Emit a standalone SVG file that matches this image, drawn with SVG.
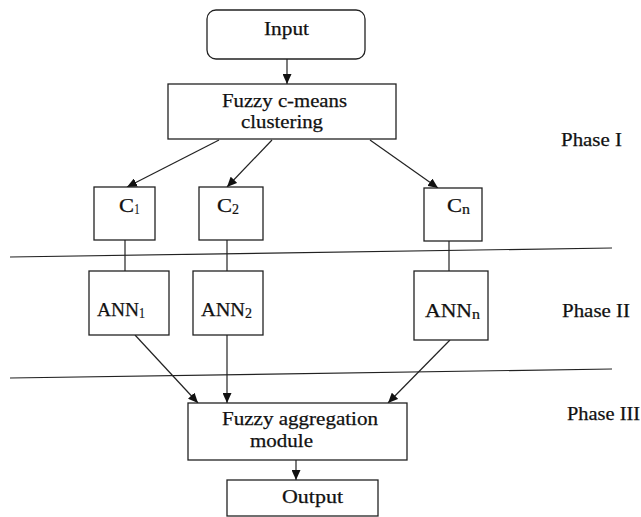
<svg xmlns="http://www.w3.org/2000/svg" width="641" height="517" viewBox="0 0 641 517">
<style>
.box{fill:#fff;stroke:#222;stroke-width:1.3}
.ln{fill:none;stroke:#222;stroke-width:1.2}
.t{font-family:"Liberation Serif","Times New Roman",serif;font-size:18.8px;fill:#111;stroke:#111;stroke-width:0.25}
.s{font-family:"Liberation Serif","Times New Roman",serif;font-size:14px;fill:#111;stroke:#111;stroke-width:0.2}
</style>
<defs>
<marker id="ah" markerUnits="userSpaceOnUse" markerWidth="10" markerHeight="9" refX="10" refY="4.5" orient="auto">
<path d="M0,0 L10,4.5 L0,9 z" fill="#111"/>
</marker>
</defs>
<rect width="641" height="517" fill="#fff"/>
<g id="separators">
<line class="ln" x1="10" y1="257" x2="612" y2="248"/>
<line class="ln" x1="10" y1="378" x2="612" y2="369"/>
</g>
<g id="connectors">
<line class="ln" x1="287" y1="59" x2="287" y2="84" marker-end="url(#ah)"/>
<line class="ln" x1="219" y1="140" x2="127" y2="187" marker-end="url(#ah)"/>
<line class="ln" x1="272" y1="140" x2="227" y2="187" marker-end="url(#ah)"/>
<line class="ln" x1="370" y1="140" x2="438" y2="188" marker-end="url(#ah)"/>
<line class="ln" x1="125" y1="240" x2="125" y2="271"/>
<line class="ln" x1="227" y1="240" x2="227" y2="271"/>
<line class="ln" x1="449" y1="241" x2="449" y2="271"/>
<line class="ln" x1="135" y1="335" x2="198" y2="403" marker-end="url(#ah)"/>
<line class="ln" x1="227" y1="335" x2="227" y2="403" marker-end="url(#ah)"/>
<line class="ln" x1="450" y1="340" x2="388" y2="403" marker-end="url(#ah)"/>
<line class="ln" x1="296" y1="460" x2="296" y2="480" marker-end="url(#ah)"/>
</g>
<g id="input">
<rect class="box" x="207" y="10" width="158" height="49" rx="9"/>
<text class="t" x="264" y="35" textLength="45" lengthAdjust="spacingAndGlyphs">Input</text>
</g>
<g id="fcm">
<rect class="box" x="168" y="84" width="228" height="55"/>
<text class="t" x="222" y="107" textLength="125" lengthAdjust="spacingAndGlyphs">Fuzzy c-means</text>
<text class="t" x="241" y="128" textLength="82" lengthAdjust="spacingAndGlyphs">clustering</text>
</g>
<g id="c1">
<rect class="box" x="94" y="187" width="61" height="53"/>
<text class="t" x="119" y="212" textLength="15" lengthAdjust="spacingAndGlyphs">C</text>
<text class="s" x="134.5" y="214" textLength="5" lengthAdjust="spacingAndGlyphs">1</text>
</g>
<g id="c2">
<rect class="box" x="199" y="187" width="64" height="53"/>
<text class="t" x="217" y="212" textLength="15" lengthAdjust="spacingAndGlyphs">C</text>
<text class="s" x="232" y="214" textLength="7" lengthAdjust="spacingAndGlyphs">2</text>
</g>
<g id="cn">
<rect class="box" x="424" y="188" width="58" height="53"/>
<text class="t" x="447" y="212" textLength="15" lengthAdjust="spacingAndGlyphs">C</text>
<text class="s" x="462" y="214" textLength="8" lengthAdjust="spacingAndGlyphs">n</text>
</g>
<g id="ann1">
<rect class="box" x="89" y="271" width="80" height="64"/>
<text class="t" x="97" y="316" textLength="42" lengthAdjust="spacingAndGlyphs">ANN</text>
<text class="s" x="139" y="318" textLength="6" lengthAdjust="spacingAndGlyphs">1</text>
</g>
<g id="ann2">
<rect class="box" x="193" y="271" width="70" height="64"/>
<text class="t" x="201" y="316" textLength="44" lengthAdjust="spacingAndGlyphs">ANN</text>
<text class="s" x="245" y="318" textLength="7" lengthAdjust="spacingAndGlyphs">2</text>
</g>
<g id="annn">
<rect class="box" x="414" y="271" width="74" height="69"/>
<text class="t" x="425" y="317" textLength="47" lengthAdjust="spacingAndGlyphs">ANN</text>
<text class="s" x="472" y="319" textLength="8" lengthAdjust="spacingAndGlyphs">n</text>
</g>
<g id="aggregation">
<rect class="box" x="188" y="403" width="219" height="57"/>
<text class="t" x="222" y="425" textLength="156" lengthAdjust="spacingAndGlyphs">Fuzzy aggregation</text>
<text class="t" x="250" y="447" textLength="63" lengthAdjust="spacingAndGlyphs">module</text>
</g>
<g id="output">
<rect class="box" x="227" y="480" width="151" height="36"/>
<text class="t" x="282" y="503" textLength="61" lengthAdjust="spacingAndGlyphs">Output</text>
</g>
<g id="phases">
<text class="t" x="561" y="146" textLength="61" lengthAdjust="spacingAndGlyphs">Phase I</text>
<text class="t" x="562" y="317" textLength="68" lengthAdjust="spacingAndGlyphs">Phase II</text>
<text class="t" x="567" y="420" textLength="73" lengthAdjust="spacingAndGlyphs">Phase III</text>
</g>
</svg>
